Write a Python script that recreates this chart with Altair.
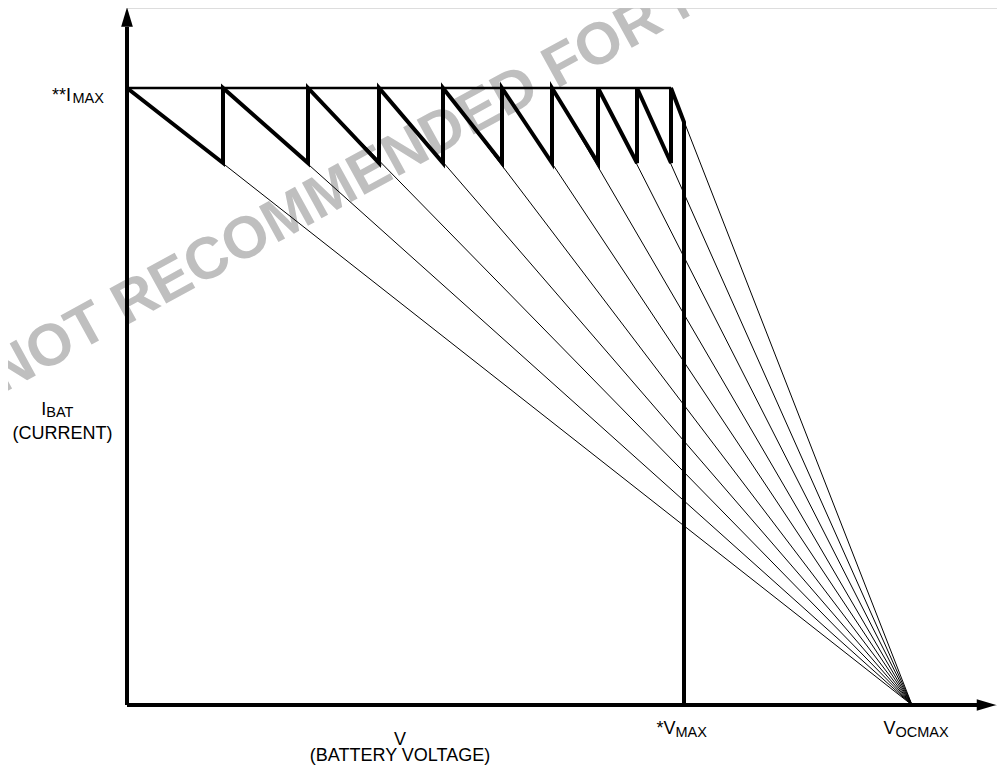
import altair as alt
import pandas as pd

# ---- values (arbitrary units: V to the right, I upward) ----
tooth_v = [0, 96, 181, 252, 316, 375, 425, 471, 510, 544]   # V where each current step restarts at I_MAX
I_MAX = 617
I_LOW = 542          # current at the bottom of each tooth
V_MAX = 557
I_KNEE = 583         # current where the last ramp meets V_MAX
V_OCMAX = 785
V_END = 870          # right end of the V axis
I_END = 697          # top end of the I axis

FONT = "Liberation Sans, Arial, Helvetica, sans-serif"

xs = alt.Scale(domain=[0, V_END], nice=False, zero=False)
ys = alt.Scale(domain=[0, I_END], nice=False, zero=False)
X = lambda f="x": alt.X(f"{f}:Q", scale=xs, axis=None)
Y = lambda f="y": alt.Y(f"{f}:Q", scale=ys, axis=None)

# thin load lines from every I_MAX start point to V_OCMAX
thin_rows = []
for i, v in enumerate(tooth_v):
    thin_rows.append({"line": i, "x": v, "y": I_MAX, "o": 0})
    thin_rows.append({"line": i, "x": V_OCMAX, "y": 0, "o": 1})
thin_df = pd.DataFrame(thin_rows)

# thick sawtooth charging path
saw_rows = [(tooth_v[0], I_MAX)]
for v in tooth_v[1:]:
    saw_rows.append((v, I_LOW))
    saw_rows.append((v, I_MAX))
saw_rows.append((V_MAX, I_KNEE))
saw_rows.append((V_MAX, 0))
saw_df = pd.DataFrame({"x": [p[0] for p in saw_rows], "y": [p[1] for p in saw_rows],
                       "o": list(range(len(saw_rows)))})

top_df = pd.DataFrame({"x": [tooth_v[0]], "x2": [tooth_v[-1]], "y": [I_MAX]})

axis_df = pd.DataFrame({"x": [0, 0], "x2": [0, V_END - 16], "y": [0, 0], "y2": [I_END - 19, 0]})
arrow_up_df = pd.DataFrame({"x": [0], "y": [I_END - 9]})
arrow_rt_df = pd.DataFrame({"x": [V_END - 10.5], "y": [0]})

wm_df = pd.DataFrame({"x": [-125], "y": [311], "t": ["NOT RECOMMENDED FOR NEW"]})

lab_right = pd.DataFrame({
    "x": [-56, -80.7, 548.5, 768.5],
    "y": [604, 290, -29, -29],
    "t": ["**I", "I", "*V", "V"],
    "s": [18, 18, 18, 18],
})
lab_left = pd.DataFrame({
    "x": [-54.5, -80.7, 548.5, 768.5],
    "y": [602, 288, -32, -32],
    "t": ["MAX", "BAT", "MAX", "OCMAX"],
    "s": [14.5, 14.5, 14.5, 14.5],
})
lab_center = pd.DataFrame({
    "x": [-64.5, 273, 273],
    "y": [266, -40, -56],
    "t": ["(CURRENT)", "V", "(BATTERY VOLTAGE)"],
    "s": [18, 18, 18],
})

watermark = alt.Chart(wm_df).mark_text(
    align="left", baseline="alphabetic", angle=331.2, font=FONT, fontWeight="bold",
    fontSize=59, color="#bfbfbf"
).encode(x=X(), y=Y(), text="t:N")

thin = alt.Chart(thin_df).mark_line(color="black", strokeWidth=1).encode(
    x=X(), y=Y(), detail="line:N", order="o:Q")

top = alt.Chart(top_df).mark_rule(color="black", strokeWidth=2.5).encode(
    x=X(), x2="x2:Q", y=Y())

saw = alt.Chart(saw_df).mark_line(color="black", strokeWidth=4, strokeJoin="miter").encode(
    x=X(), y=Y(), order="o:Q")

axes = alt.Chart(axis_df).mark_rule(color="black", strokeWidth=4).encode(
    x=X(), x2="x2:Q", y=Y(), y2="y2:Q")

arrow_up = alt.Chart(arrow_up_df).mark_point(
    shape="M0,-1L0.6,1L-0.6,1Z", size=380, filled=True, color="black", opacity=1, strokeWidth=0
).encode(x=X(), y=Y())
arrow_rt = alt.Chart(arrow_rt_df).mark_point(
    shape="M1,0L-1,0.6L-1,-0.6Z", size=380, filled=True, color="black", opacity=1, strokeWidth=0
).encode(x=X(), y=Y())

def labels(df, align):
    return alt.Chart(df).mark_text(align=align, baseline="alphabetic", font=FONT, color="black").encode(
        x=X(), y=Y(), text="t:N", size=alt.Size("s:Q", scale=None, legend=None))

chart = alt.layer(
    watermark, thin, top, saw, axes, arrow_up, arrow_rt,
    labels(lab_right, "right"), labels(lab_left, "left"), labels(lab_center, "center"),
).properties(
    width=V_END, height=I_END,
    autosize=alt.AutoSizeParams(type="none"),
    padding={"left": 119, "top": 0, "right": 0, "bottom": 60},
).configure_view(stroke=None).configure(background="white")

chart.save("out.html", embed_options={"renderer": "svg", "actions": False})
